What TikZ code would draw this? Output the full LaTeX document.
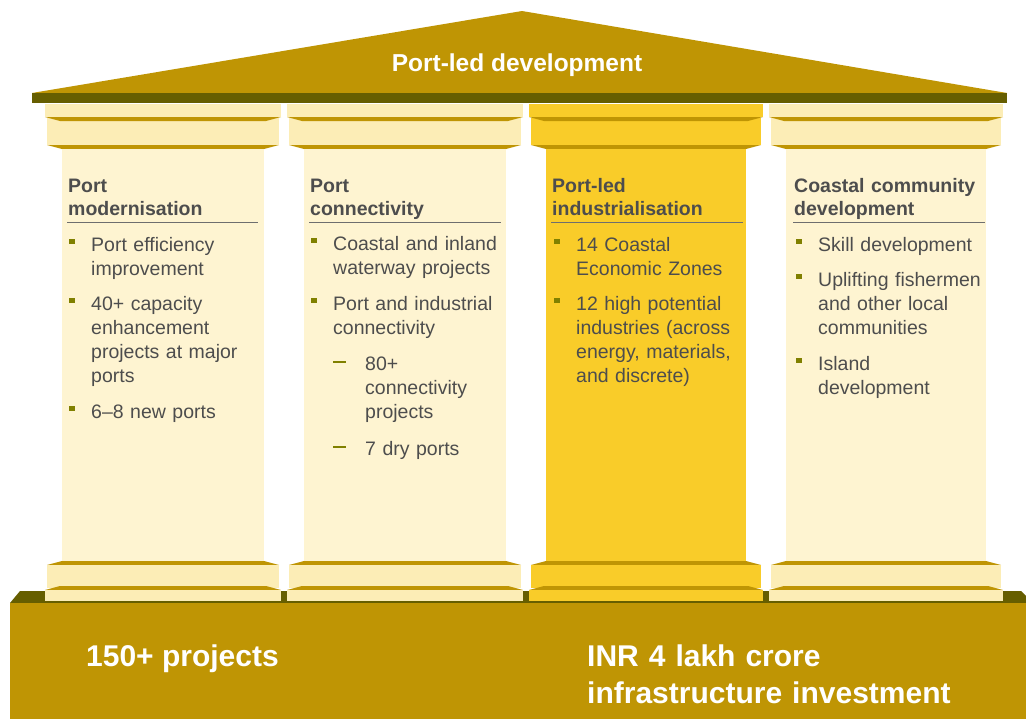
\documentclass[tikz,border=0pt]{standalone}
\usepackage{fontspec}
\setmainfont{Liberation Sans}

\definecolor{roofgold}{HTML}{BF9504}
\definecolor{beamdark}{HTML}{665E00}
\definecolor{capcream}{HTML}{FCEDB6}
\definecolor{shaftcream}{HTML}{FEF4D1}
\definecolor{hilite}{HTML}{F9CC29}
\definecolor{inkgray}{HTML}{4D4D4D}
\definecolor{rulegray}{HTML}{6E6E6E}
\definecolor{bulletolive}{HTML}{808000}

\tikzset{
  bodytext/.style={anchor=base west, inner sep=0pt, align=left, text width=200pt,
    text=inkgray, font=\fontsize{19.5}{24}\selectfont},
  headtext/.style={anchor=base west, inner sep=0pt, align=left, text width=220pt,
    text=inkgray, font=\fontsize{19.5}{23}\selectfont\bfseries},
  headrule/.style={draw=rulegray, line width=1pt},
  whitetitle/.style={inner sep=0pt, text=white},
}

% one column: #1 left edge, #2 right edge, #3 capital colour, #4 shaft colour
\newcommand\pillar[4]{%
  % upper capital
  \fill[#3] (#1,-103.5) rectangle (#2,-117);
  \fill[#3] ({#1+2},-118) rectangle ({#2-2},-145);
  \fill[roofgold] (#1,-117) -- (#2,-117) -- ({#2-15},-121) -- ({#1+15},-121) -- cycle;
  \fill[roofgold] ({#1+2},-145) -- ({#2-2},-145) -- ({#2-17},-149) -- ({#1+17},-149) -- cycle;
  % shaft
  \fill[#4] ({#1+17},-149) rectangle ({#2-17},-561);
  % lower capital
  \fill[roofgold] ({#1+17},-561) -- ({#2-17},-561) -- ({#2-2},-565) -- ({#1+2},-565) -- cycle;
  \fill[#3] ({#1+2},-565) rectangle ({#2-2},-588);
  \fill[roofgold] ({#1+15},-586) -- ({#2-15},-586) -- (#2,-590) -- (#1,-590) -- cycle;
  \fill[#3] (#1,-590) rectangle (#2,-601);
}

% bullet item: #1 text x, #2 first baseline, #3 node name, #4 text
\newcommand\bitem[4]{%
  \fill[bulletolive] ({#1-22},{-#2+12.5}) rectangle ({#1-16.5},{-#2+7});
  \node[bodytext] (#3) at (#1,-#2) {#4};
}
% dash sub-item: #1 dash x, #2 first baseline, #3 node name, #4 text
\newcommand\ditem[4]{%
  \draw[bulletolive, line width=1.6pt] (#1,{-#2+8}) -- ({#1+13},{-#2+8});
  \node[bodytext] (#3) at ({#1+32},-#2) {#4};
}

\begin{document}
\begin{tikzpicture}[x=1pt, y=-1pt]
\useasboundingbox (0,0) rectangle (1026,718);
\clip (0,0) rectangle (1026,718);

% roof and beam
\fill[roofgold] (32,93) -- (522,11) -- (1007,93) -- cycle;
\fill[beamdark] (32,93) rectangle (1007,103);
\node[whitetitle, anchor=base, font=\fontsize{24.5}{28}\selectfont\bfseries] (roof) at (517,71) {Port-led development};

% plinth
\fill[beamdark] (10,603) -- (20,591) -- (1021,591) -- (1033,603) -- cycle;
\fill[roofgold] (10,603) rectangle (1030,720);

\begin{scope}[y=1pt]
% columns
\pillar{45}{281}{capcream}{shaftcream}
\pillar{287}{523}{capcream}{shaftcream}
\pillar{529}{763}{hilite}{hilite}
\pillar{769}{1003}{capcream}{shaftcream}

% column 1
\node[headtext] (h1) at (68,-192) {Port\\modernisation};
\draw[headrule] (67,-222) -- (258,-222);
\bitem{91}{251}{pm1}{Port efficiency\\improvement}
\bitem{91}{310}{pm2}{40+ capacity\\enhancement\\projects at major\\ports}
\bitem{91}{418}{pm3}{6–8 new ports}

% column 2
\node[headtext] (h2) at (310,-192) {Port\\connectivity};
\draw[headrule] (309,-222) -- (501,-222);
\bitem{333}{250}{pc1}{Coastal and inland\\waterway projects}
\bitem{333}{310}{pc2}{Port and industrial\\connectivity}
\ditem{333}{370}{pc3}{80+\\connectivity\\projects}
\ditem{333}{455}{pc4}{7 dry ports}

% column 3
\node[headtext] (h3) at (552,-192) {Port-led\\industrialisation};
\draw[headrule] (551,-222) -- (743,-222);
\bitem{576}{251}{pi1}{14 Coastal\\Economic Zones}
\bitem{576}{310}{pi2}{12 high potential\\industries (across\\energy, materials,\\and discrete)}

% column 4
\node[headtext] (h4) at (794,-192) {Coastal community\\development};
\draw[headrule] (793,-222) -- (985,-222);
\bitem{818}{251}{cc1}{Skill development}
\bitem{818}{286}{cc2}{Uplifting fishermen\\and other local\\communities}
\bitem{818}{370}{cc3}{Island\\development}
\end{scope}

% plinth labels
\node[whitetitle, anchor=base west, font=\fontsize{30}{37}\selectfont\bfseries] (projects) at (86,666) {150+ projects};
\node[whitetitle, anchor=base west, align=left, text width=420pt, font=\fontsize{30}{37}\selectfont\bfseries] (invest) at (587,666) {INR 4 lakh crore\\infrastructure investment};
\end{tikzpicture}
\end{document}
